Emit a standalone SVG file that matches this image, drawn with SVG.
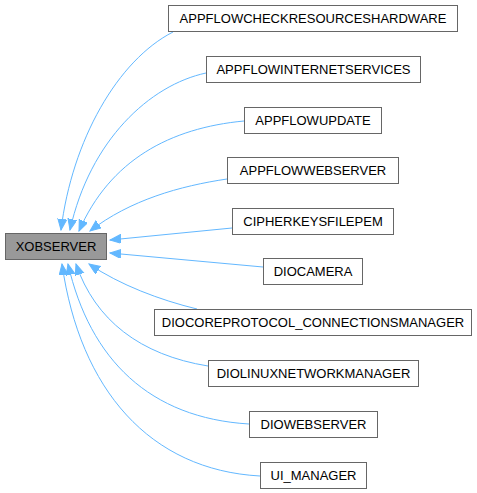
<svg xmlns="http://www.w3.org/2000/svg" width="477" height="493" viewBox="0 0 477 493">
<style>
.node rect{fill:#ffffff;stroke:#666666;stroke-width:1}
#n0 rect{fill:#999999}
.node text{font-family:"Liberation Sans",Arial,sans-serif;font-size:13px;fill:#000000;text-anchor:middle}
.edges path{fill:none;stroke:#63b8ff;stroke-width:1;marker-end:url(#ah)}
</style>
<defs>
<marker id="ah" markerUnits="userSpaceOnUse" markerWidth="12" markerHeight="10" refX="11" refY="4.5" orient="auto">
<path d="M0,0 L11,4.5 L0,9 z" fill="#63b8ff" stroke="#63b8ff" stroke-width="1"/>
</marker>
</defs>
<rect width="477" height="493" fill="#ffffff"/>
<g class="edges">
<path d="M173,32 C118,60 72,140 61,230"/>
<path d="M206,73 C150,85 90,140 70,230"/>
<path d="M244,121 C170,128 110,160 79,231"/>
<path d="M227,179 C180,186 130,200 90,231"/>
<path d="M232,228 L110,240"/>
<path d="M263,267 L110,253"/>
<path d="M197,309 C160,300 120,285 89,264"/>
<path d="M208,366 C140,355 95,320 76,264"/>
<path d="M249,424 C150,418 90,360 68,264"/>
<path d="M260,476 C150,470 80,390 62,264"/>
</g>
<g id="n0" class="node"><rect x="5.5" y="233.5" width="101" height="26"/><text x="56" y="251">XOBSERVER</text></g>
<g id="n1" class="node"><rect x="168.5" y="5.5" width="289" height="26"/><text x="313" y="23">APPFLOWCHECKRESOURCESHARDWARE</text></g>
<g id="n2" class="node"><rect x="206.5" y="56.5" width="214" height="26"/><text x="313.5" y="74">APPFLOWINTERNETSERVICES</text></g>
<g id="n3" class="node"><rect x="244.5" y="107.5" width="137" height="26"/><text x="313" y="125">APPFLOWUPDATE</text></g>
<g id="n4" class="node"><rect x="227.5" y="157.5" width="171" height="26"/><text x="313" y="175">APPFLOWWEBSERVER</text></g>
<g id="n5" class="node"><rect x="232.5" y="208.5" width="161" height="26"/><text x="313" y="226">CIPHERKEYSFILEPEM</text></g>
<g id="n6" class="node"><rect x="263.5" y="258.5" width="99" height="26"/><text x="313" y="276">DIOCAMERA</text></g>
<g id="n7" class="node"><rect x="154.5" y="309.5" width="317" height="26"/><text x="313" y="327">DIOCOREPROTOCOL_CONNECTIONSMANAGER</text></g>
<g id="n8" class="node"><rect x="208.5" y="360.5" width="210" height="26"/><text x="313.5" y="378">DIOLINUXNETWORKMANAGER</text></g>
<g id="n9" class="node"><rect x="249.5" y="411.5" width="128" height="26"/><text x="313.5" y="429">DIOWEBSERVER</text></g>
<g id="n10" class="node"><rect x="260.5" y="462.5" width="106" height="26"/><text x="313.5" y="480">UI_MANAGER</text></g>
</svg>
